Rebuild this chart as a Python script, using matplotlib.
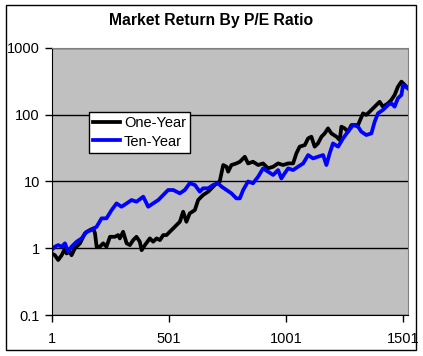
import matplotlib.pyplot as plt
from matplotlib.patches import Rectangle
from matplotlib.ticker import FixedLocator, FixedFormatter, NullLocator

plt.rcParams['font.family'] = ['Liberation Sans', 'DejaVu Sans']

# One-Year series (period index, cumulative return)
one_x = [1, 15, 29, 44, 58, 65, 79, 86, 100, 122, 143, 164, 179, 186, 193, 207,
         221, 235, 250, 271, 285, 292, 306, 321, 335, 349, 363, 377, 385, 399,
         420, 434, 449, 463, 477, 491, 505, 527, 548, 562, 576, 590, 612, 626,
         647, 669, 683, 697, 718, 733, 747, 754, 768, 789, 804, 825, 839, 860,
         882, 903, 924, 946, 967, 988, 1010, 1031, 1045, 1059, 1081, 1095, 1109,
         1123, 1137, 1152, 1166, 1180, 1194, 1216, 1230, 1237, 1251, 1265, 1280,
         1308, 1329, 1343, 1365, 1379, 1400, 1414, 1436, 1450, 1464, 1478, 1493,
         1507, 1521]
one_y = [0.84, 0.79, 0.67, 0.79, 1.0, 0.84, 0.89, 0.79, 1.0, 1.19, 1.68, 1.88,
         1.99, 1.68, 1.06, 1.06, 1.19, 1.06, 1.49, 1.49, 1.58, 1.41, 1.77, 1.19,
         1.12, 1.33, 1.49, 1.26, 0.94, 1.12, 1.41, 1.26, 1.41, 1.33, 1.58, 1.58,
         1.77, 2.11, 2.5, 3.53, 2.5, 3.33, 3.74, 5.28, 6.27, 7.04, 7.9, 8.87, 10.0,
         17.6, 16.6, 14.0, 17.6, 18.6, 19.7, 23.4, 18.6, 19.7, 17.6, 18.6, 15.7,
         16.6, 18.6, 17.6, 18.6, 18.6, 26.3, 33.1, 35.0, 44.0, 46.6, 33.1, 37.0,
         46.6, 52.3, 62.1, 52.3, 46.6, 41.6, 65.8, 62.1, 55.4, 69.7, 69.7, 104,
         98.6, 117, 131, 155, 131, 147, 165, 196, 260, 310, 277, 247]

# Ten-Year series
ten_x = [1, 15, 29, 44, 58, 72, 86, 108, 129, 150, 171, 193, 214, 235, 257, 278,
         299, 321, 342, 363, 392, 413, 434, 456, 477, 498, 520, 548, 569, 590,
         612, 633, 647, 669, 690, 711, 726, 747, 768, 789, 804, 818, 839, 860,
         882, 903, 924, 946, 967, 981, 995, 1010, 1031, 1052, 1074, 1095, 1116,
         1137, 1159, 1173, 1187, 1201, 1223, 1244, 1265, 1287, 1308, 1322, 1343,
         1365, 1379, 1393, 1414, 1436, 1450, 1464, 1478, 1493, 1500, 1510, 1521]
ten_y = [0.94, 1.06, 1.12, 1.06, 1.19, 0.89, 1.06, 1.26, 1.41, 1.77, 1.88, 2.11,
         2.81, 2.81, 3.74, 4.7, 4.19, 4.7, 5.28, 4.98, 5.92, 4.19, 4.7, 5.28,
         6.27, 7.45, 7.45, 6.64, 7.45, 9.39, 8.87, 7.04, 7.9, 7.9, 8.87, 9.39,
         8.37, 7.45, 6.64, 5.59, 5.59, 7.45, 10.0, 9.39, 11.8, 15.7, 14.0, 12.5,
         14.8, 11.1, 13.2, 15.7, 14.8, 16.6, 18.6, 24.8, 22.1, 23.4, 24.8, 17.6,
         26.3, 37.0, 33.1, 44.0, 55.4, 69.7, 65.8, 55.4, 49.4, 52.3, 78.3, 104,
         117, 139, 147, 131, 175, 196, 277, 260, 247]

x_ticks = [1, 501, 1001, 1501]
y_ticks = [0.1, 1, 10, 100, 1000]
y_labels = ['0.1', '1', '10', '100', '1000']

fig = plt.figure(figsize=(4.23, 3.56), dpi=100)
ax = fig.add_axes([0.122, 0.1143, 0.8425, 0.752])

# chart frame
fig.patches.append(Rectangle((6 / 423, 1 - 350 / 356), 410 / 423, 345 / 356,
                             transform=fig.transFigure, fill=False,
                             edgecolor='black', linewidth=1))

ax.set_facecolor('#C0C0C0')
ax.set_yscale('log')
ax.set_ylim(0.1, 1000)
ax.set_xlim(1, 1521)

ax.plot(one_x, one_y, color='black', linewidth=2.7, label='One-Year')
ax.plot(ten_x, ten_y, color='#0000FF', linewidth=2.7, label='Ten-Year')

ax.yaxis.set_major_locator(FixedLocator(y_ticks))
ax.yaxis.set_major_formatter(FixedFormatter(y_labels))
ax.yaxis.set_minor_locator(NullLocator())
ax.set_xticks(x_ticks)
ax.set_xticklabels([str(v) for v in x_ticks])
ax.tick_params(direction='out', length=5, width=1, labelsize=10.5, colors='black')
ax.tick_params(axis='x', pad=7)
ax.grid(axis='y', color='black', linewidth=1)
ax.set_axisbelow(True)

for side in ['top', 'right']:
    ax.spines[side].set_color('#808080')
for side in ['left', 'bottom']:
    ax.spines[side].set_color('black')

fig.text(0.5, 1 - 21 / 356, 'Market Return By P/E Ratio', ha='center', va='center',
         fontsize=11.3, fontweight='bold')

leg = ax.legend(loc='upper left', bbox_to_anchor=(0.105, 0.76), borderaxespad=0,
                fontsize=10.5, handlelength=1.8, handletextpad=0.3,
                labelspacing=0.3, borderpad=0.3, fancybox=False, framealpha=1)
leg.get_frame().set_edgecolor('black')
leg.get_frame().set_linewidth(1)

fig.savefig('out.png', dpi=100)
